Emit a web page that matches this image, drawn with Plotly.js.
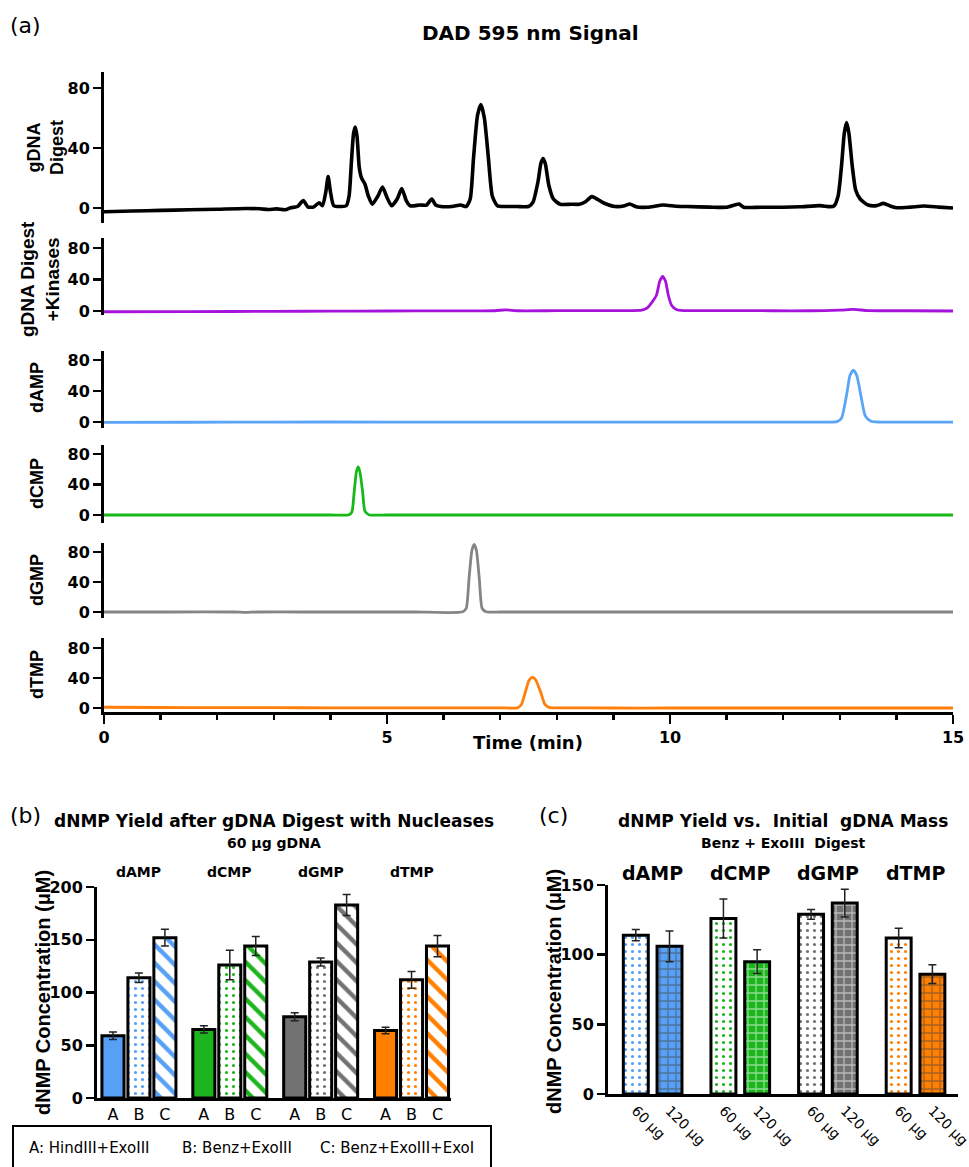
<!DOCTYPE html>
<html><head><meta charset="utf-8">
<script src="https://cdn.plot.ly/plotly-3.0.1.min.js"></script>
<style>html,body{margin:0;padding:0;background:#fff}</style>
</head><body><div id="chart" style="width:969px;height:1167px"></div>
<script>
// ---------- Panel (a): DAD 595 nm chromatograms ----------
const gdnaTime   = [0,0.5,1,1.5,2,2.5,2.75,2.9,3.05,3.2,3.3,3.42,3.52,3.6,3.7,3.8,3.86,3.92,3.96,4.0,4.06,4.2,4.28,4.33,4.37,4.41,4.44,4.47,4.51,4.55,4.61,4.67,4.74,4.84,4.92,5.0,5.08,5.18,5.26,5.34,5.41,5.58,5.7,5.79,5.86,5.95,6.15,6.3,6.4,6.47,6.53,6.6,6.66,6.72,6.79,6.86,6.95,7.1,7.3,7.5,7.58,7.67,7.72,7.76,7.8,7.86,7.94,8.06,8.25,8.4,8.5,8.62,8.82,9.03,9.2,9.29,9.4,9.6,9.88,10.1,10.3,10.7,11,11.22,11.3,11.6,12,12.3,12.65,12.83,12.9,12.97,13.03,13.08,13.12,13.16,13.22,13.28,13.36,13.5,13.65,13.77,13.9,14.0,14.25,14.48,14.75,15];
const gdnaSignal = [-2.5,-2,-1.6,-1.2,-0.8,-0.3,-0.5,-1,-0.6,-1.2,0.2,1,5,0.8,0.6,3.5,1.5,11,21,11,1.5,1,1.5,8,30,50,54,48,27,20,16,8,2.5,8,14,7,1.5,6,13,5,1.5,2,2,6,2,1,1,2,1,6,34,62,69,60,34,8,1.5,1,1,1,4,18,30,33,29,15,6,2.5,2.5,2.5,4,7.6,3.5,1,1.5,2.7,0.8,0.5,2,1.2,1,0.6,0.5,2.6,0.5,0.5,0.5,0.8,1.6,0.9,1.5,8,28,50,57,50,28,12,6,2,1.6,3.1,1.2,0.2,0.6,1.3,0.6,0];
const kinTime    = [0,1.5,3,4,5,6,6.9,7.1,7.3,8,9.0,9.5,9.6,9.68,9.76,9.82,9.87,9.92,9.97,10.03,10.12,10.25,10.6,11,11.8,12.5,13.0,13.25,13.5,14.2,15];
const kinSignal  = [-1,-0.8,-0.5,-0.2,0,0.2,0.3,1.5,0.3,0.4,0.5,1,4,11,20,38,44,38,20,7,1.5,0.5,0.5,0.5,0.3,0.3,1,2,0.5,0.3,0];
const dampTime   = [0,1.5,3,5,7,9,10,11.5,12.5,12.95,13.03,13.12,13.18,13.24,13.3,13.37,13.45,13.55,13.7,14.2,15];
const dampSignal = [-0.5,-0.3,0,0,0,0,0,0,0,0.5,5,35,60,67,60,35,8,1,0,0,0];
const dcmpTime   = [0,1.5,3,4,4.33,4.38,4.42,4.46,4.49,4.52,4.57,4.61,4.68,5,6,7.5,9,10.5,12,13.5,15];
const dcmpSignal = [0,0,0,0,0.3,4,30,57,63,57,30,5,0.3,0,0,0,0,0,0,0,0];
const dgmpTime   = [0,1.2,2.3,2.5,2.7,3.5,4.5,5.5,6.34,6.4,6.45,6.5,6.54,6.58,6.63,6.68,6.75,7,8,9,10,11,12,13,14,15];
const dgmpSignal = [0,0,0,-0.5,0,0,0,0,0.3,5,45,82,90,82,45,5,0.3,0,0,0,0,0,0,0,0,0];
const dtmpTime   = [0,1,2,3,4,5,6,7,7.3,7.37,7.44,7.51,7.57,7.63,7.72,7.79,7.88,8.1,9,10,11,12,13,14,15];
const dtmpSignal = [1,0.7,0.5,0.4,0.3,0.3,0.3,0.3,0.3,4,20,37,41,37,20,5,0.5,0.2,0,0,0,0,0,0,0];
const traceNames = ['gDNA<br>Digest','gDNA Digest<br>+Kinases','dAMP','dCMP','dGMP','dTMP'];
const traceColors = ['#000000','#a512dc','#5aa5f7','#17b817','#858585','#ff7f0a'];
const signalTicks = [0,40,80];
const timeTicks = [0,5,10,15];

// ---------- Panel (b): yield by nuclease digest ----------
const nucleotides = ['dAMP','dCMP','dGMP','dTMP'];
const digestCodes = ['A','B','C'];
const yieldA = [59,65,77,64];   const errA = [3.5,3.5,3.8,3];
const yieldB = [114,126,129,112]; const errB = [4.5,14,3.8,8];
const yieldC = [152,144,183,144]; const errC = [8,9,10,10];
const legendItems = ['A: HindIII+ExoIII','B: Benz+ExoIII','C: Benz+ExoIII+ExoI'];
const barColors = ['#56a0f5','#1db51d','#727272','#ff7f00'];
const yTicksB = [0,50,100,150,200];

// ---------- Panel (c): yield vs initial gDNA mass ----------
const massLabels = ['60 μg','120 μg'];
const yield60  = [114,126,129,112]; const err60  = [4,14,3.5,7];
const yield120 = [106,95,137,86];   const err120 = [11,8.5,10,6.7];
const yTicksC = [0,50,100,150];

// ---------- helpers ----------
const W = 969, H = 1167;
const fx = px => px / W;
const fy = py => 1 - py / H;
const boldH = {family:'DejaVu Sans', weight:'bold', color:'#000'};
const regH  = {family:'DejaVu Sans', color:'#000'};
const boldV = {family:'Liberation Sans, Arial, sans-serif', weight:'bold', color:'#000'};
const axBase = {showline:true, linecolor:'#000', linewidth:3, ticks:'outside', ticklen:8, tickwidth:2.5,
  tickcolor:'#000', showgrid:false, zeroline:false, fixedrange:true,
  tickfont:Object.assign({size:16}, boldH)};
function note(px, py, text, font, extra) {
  return Object.assign({xref:'paper', yref:'paper', x:fx(px), y:fy(py), text:text, showarrow:false,
    xanchor:'center', yanchor:'middle', font:font}, extra || {});
}

const data = [];
const layout = {width:W, height:H, autosize:false, margin:{l:0,r:0,t:0,b:0},
  paper_bgcolor:'#fff', plot_bgcolor:'rgba(0,0,0,0)', showlegend:false,
  annotations:[], shapes:[]};

// Panel (a) geometry: [top px, bottom px, yrange]
const aGeom = [[72,223,[-10,90.7]],[238,315,[-5.1,92.7]],[351,428,[-7.7,91.6]],
               [445,523,[-10.5,91.8]],[543,618,[-8,92]],[638,712,[-5.3,93.3]]];
const aSeries = [[gdnaTime,gdnaSignal],[kinTime,kinSignal],[dampTime,dampSignal],
                 [dcmpTime,dcmpSignal],[dgmpTime,dgmpSignal],[dtmpTime,dtmpSignal]];
const aTitleX = [45,40,37,37,37,37];
const aTitleY = [148,279,388,484,580,675];
const aTitleSize = [18,19,18,18,18,18];
aSeries.forEach((s,i)=>{
  const yk = i===0 ? 'y' : 'y'+(i+1);
  data.push({type:'scatter', mode:'lines', x:s[0], y:s[1], xaxis:'x', yaxis:yk,
    line:{color:traceColors[i], width:i===0?3.6:2.8, shape:'spline', smoothing:0.6},
    hoverinfo:'skip', cliponaxis:false});
  const g = aGeom[i];
  layout[i===0?'yaxis':'yaxis'+(i+1)] = Object.assign({}, axBase, {
    domain:[fy(g[1]), fy(g[0])], range:g[2], anchor:'x', tickvals:signalTicks});
  layout.annotations.push(note(aTitleX[i], aTitleY[i], traceNames[i], Object.assign({size:aTitleSize[i]}, boldV), {textangle:-90}));
});
layout.xaxis = Object.assign({}, axBase, {domain:[fx(104), fx(953)], range:[0,15], anchor:'y6',
  tickvals:timeTicks, ticklen:9,
  minor:{dtick:1, ticks:'outside', ticklen:5, tickwidth:2.5, tickcolor:'#000'}});
layout.annotations.push(
  note(25, 26, '(a)', Object.assign({size:22}, regH)),
  note(530, 33, 'DAD 595 nm Signal', Object.assign({size:20}, boldH)),
  note(528, 742, 'Time (min)', Object.assign({size:18}, boldH))
);

// Panel (b)
const bPos = (g,k) => g*3.5 + k;
const bYields = [yieldA, yieldB, yieldC], bErrs = [errA, errB, errC];
const bTickVals = [], bTickText = [];
nucleotides.forEach((n,g)=>digestCodes.forEach((c,k)=>{bTickVals.push(bPos(g,k)); bTickText.push(c);}));
digestCodes.forEach((c,k)=>{
  const pat = k===0 ? {shape:''} :
    (k===1 ? {shape:'.', fgcolor:barColors, bgcolor:'#fff', size:7, solidity:0.16, fillmode:'replace'}
           : {shape:'\\', fgcolor:barColors, bgcolor:'#fff', size:13, solidity:0.33, fillmode:'replace'});
  data.push({type:'bar', xaxis:'x2', yaxis:'y7', x:nucleotides.map((n,g)=>bPos(g,k)), y:bYields[k],
    width:0.85, marker:{color:k===0?barColors:'#fff', line:{color:'#000', width:3}, pattern:pat},
    error_y:{type:'data', array:bErrs[k], visible:true, color:'#222', thickness:1.5, width:4},
    hoverinfo:'skip'});
});
layout.xaxis2 = Object.assign({}, axBase, {domain:[fx(97), fx(451)], range:[-0.615,13.02], anchor:'y7',
  tickvals:bTickVals, ticktext:bTickText, ticks:'', tickfont:Object.assign({size:16}, regH)});
layout.yaxis7 = Object.assign({}, axBase, {domain:[fy(1098), fy(887)], range:[0,200], anchor:'x2', tickvals:yTicksB});
nucleotides.forEach((n,g)=>layout.annotations.push({xref:'x2', yref:'paper', x:bPos(g,1), y:fy(872),
  xanchor:'center', yanchor:'middle', text:n, showarrow:false, font:Object.assign({size:14}, boldH)}));
layout.annotations.push(
  note(25, 815, '(b)', Object.assign({size:22}, regH)),
  note(274, 821, 'dNMP Yield after gDNA Digest with Nucleases', Object.assign({size:17}, boldH)),
  note(274, 843, '60 μg gDNA', Object.assign({size:14}, boldH)),
  note(43, 993, 'dNMP Concentration (μM)', Object.assign({size:20}, boldV), {textangle:-90})
);
const legX = [27,180,318];
legendItems.forEach((t,i)=>layout.annotations.push(note(legX[i], 1148, t, Object.assign({size:15}, regH), {xanchor:'left'})));
layout.shapes.push({type:'rect', xref:'paper', yref:'paper', x0:fx(13), x1:fx(491), y0:fy(1126), y1:fy(1400),
  line:{color:'#000', width:2}});

// Panel (c)
const cPos = (g,k) => g*2.6 + k;
const cYields = [yield60, yield120], cErrs = [err60, err120];
const cTickVals = [], cTickText = [];
nucleotides.forEach((n,g)=>massLabels.forEach((m,k)=>{cTickVals.push(cPos(g,k)); cTickText.push(m);}));
massLabels.forEach((m,k)=>{
  const pat = k===0 ? {shape:'.', fgcolor:barColors, bgcolor:'#fff', size:7, solidity:0.16, fillmode:'replace'}
                    : {shape:'+', fgcolor:'#fff', size:8, solidity:0.3, fillmode:'overlay'};
  data.push({type:'bar', xaxis:'x3', yaxis:'y8', x:nucleotides.map((n,g)=>cPos(g,k)), y:cYields[k],
    width:0.74, marker:{color:barColors, line:{color:'#000', width:3}, pattern:pat},
    error_y:{type:'data', array:cErrs[k], visible:true, color:'#222', thickness:1.5, width:4},
    hoverinfo:'skip'});
});
layout.xaxis3 = Object.assign({}, axBase, {domain:[fx(608), fx(958)], range:[-0.825,9.56], anchor:'y8',
  tickvals:cTickVals, ticktext:cTickText, ticks:'', tickangle:45, ticklabeloverflow:'allow',
  tickfont:Object.assign({size:14}, regH)});
layout.yaxis8 = Object.assign({}, axBase, {domain:[fy(1094), fy(885)], range:[0,150], anchor:'x3', tickvals:yTicksC});
nucleotides.forEach((n,g)=>layout.annotations.push({xref:'x3', yref:'paper', x:cPos(g,0.5), y:fy(873),
  xanchor:'center', yanchor:'middle', text:n, showarrow:false, font:Object.assign({size:19}, boldH)}));
layout.annotations.push(
  note(553, 815, '(c)', Object.assign({size:22}, regH)),
  note(783, 821, 'dNMP Yield vs.\u00a0 Initial\u00a0 gDNA Mass', Object.assign({size:17}, boldH)),
  note(783, 843, 'Benz + ExoIII\u00a0 Digest', Object.assign({size:14}, boldH)),
  note(554, 992, 'dNMP Concentration (μM)', Object.assign({size:20}, boldV), {textangle:-90})
);

Plotly.newPlot('chart', data, layout, {staticPlot:true, displayModeBar:false});
</script></body></html>
